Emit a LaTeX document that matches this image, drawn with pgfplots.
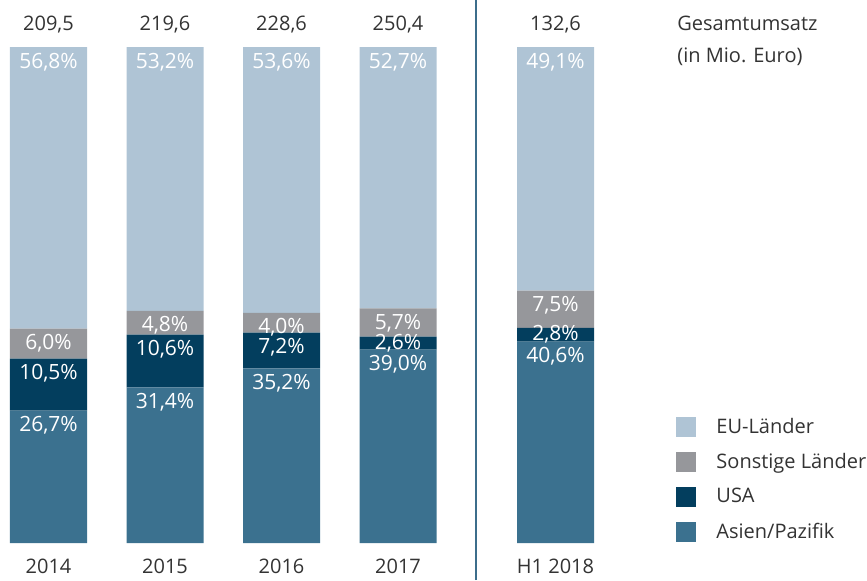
\documentclass[border=0pt]{standalone}
\usepackage{pgfplots}
\pgfplotsset{compat=1.18}
\usepackage{pgfplotstable}
\usepackage{fontspec}
\setmainfont{Open Sans}
\definecolor{cEU}{HTML}{AFC4D5}
\definecolor{cSon}{HTML}{96979B}
\definecolor{cUSA}{HTML}{033E5E}
\definecolor{cAsia}{HTML}{3B718F}
\definecolor{cLine}{HTML}{3C6D8B}
\definecolor{textc}{HTML}{333333}
\pgfplotstableread{
x asien usa sonst eu
0 26.7 10.5 6.0 56.8
1 31.4 10.6 4.8 53.2
2 35.2 7.2 4.0 53.6
3 39.0 2.6 5.7 52.7
4.352 40.6 2.8 7.5 49.1
}\data
\tikzset{
  txtlab/.style={anchor=base, text=textc, font=\fontsize{10}{12}\selectfont},
  pctlab/.style={anchor=base, text=white, font=\fontsize{10.5}{12}\selectfont, yshift=-10.5pt},
  pctsmall/.style={anchor=base, text=white, font=\fontsize{10.5}{12}\selectfont, yshift=-6.5pt},
}
\begin{document}
\begin{tikzpicture}
\begin{axis}[
  scale only axis, width=433.5pt, height=290pt,
  xmin=-0.4163, xmax=7.0258, ymin=-7.46, ymax=109.48,
  hide axis, clip=false,
  ybar stacked, bar width=38.5pt,
  reverse legend,
  legend cell align=left,
  legend style={at={(axis cs:5.335,26.9)}, anchor=north west, draw=none, fill=none,
    font=\fontsize{10}{12}\selectfont, text=textc, row sep=4.5pt,
    /tikz/every odd column/.append style={column sep=8pt}},
  legend image code/.code={\draw[#1,draw=none] (0pt,-5pt) rectangle (10pt,5pt);},
]
\addplot[fill=cAsia, draw=none] table[x=x, y=asien] {\data};
\addplot[fill=cUSA, draw=none] table[x=x, y=usa] {\data};
\addplot[fill=cSon, draw=none] table[x=x, y=sonst] {\data};
\addplot[fill=cEU, draw=none] table[x=x, y=eu] {\data};
\legend{Asien/Pazifik, USA, Sonstige Länder, EU-Länder}
\draw[cLine, line width=1pt] (axis cs:3.67,-7.46) -- (axis cs:3.67,109.48);
\coordinate (a4) at (axis cs:0,100);
\coordinate (a3) at (axis cs:0,43.2);
\coordinate (a2) at (axis cs:0,37.2);
\coordinate (a1) at (axis cs:0,26.7);
\coordinate (b4) at (axis cs:1,100);
\coordinate (b3) at (axis cs:1,46.8);
\coordinate (b2) at (axis cs:1,42.0);
\coordinate (b1) at (axis cs:1,31.4);
\coordinate (c4) at (axis cs:2,100);
\coordinate (c3) at (axis cs:2,46.4);
\coordinate (c2) at (axis cs:2,42.4);
\coordinate (c1) at (axis cs:2,35.2);
\coordinate (d4) at (axis cs:3,100);
\coordinate (d3) at (axis cs:3,47.3);
\coordinate (d2) at (axis cs:3,41.6);
\coordinate (d1) at (axis cs:3,39.0);
\coordinate (e4) at (axis cs:4.352,100);
\coordinate (e3) at (axis cs:4.352,50.9);
\coordinate (e2) at (axis cs:4.352,43.4);
\coordinate (e1) at (axis cs:4.352,40.6);
\node[txtlab] at (axis cs:0,103.4) {209,5};
\node[txtlab] at (axis cs:1,103.4) {219,6};
\node[txtlab] at (axis cs:2,103.4) {228,6};
\node[txtlab] at (axis cs:3,103.4) {250,4};
\node[txtlab] at (axis cs:4.352,103.4) {132,6};
\node[txtlab] at (axis cs:0,-6.05) {2014};
\node[txtlab] at (axis cs:1,-6.05) {2015};
\node[txtlab] at (axis cs:2,-6.05) {2016};
\node[txtlab] at (axis cs:3,-6.05) {2017};
\node[txtlab] at (axis cs:4.352,-6.05) {H1 2018};
\node[txtlab, anchor=base west, inner sep=0pt] at (axis cs:5.395,103.4) {Gesamtumsatz};
\node[txtlab, anchor=base west, inner sep=0pt] at (axis cs:5.395,96.9) {(in Mio. Euro)};
\end{axis}
\node[pctlab] at (a4) {56,8\%};
\node[pctlab] at (a3) {6,0\%};
\node[pctlab] at (a2) {10,5\%};
\node[pctlab] at (a1) {26,7\%};
\node[pctlab] at (b4) {53,2\%};
\node[pctlab] at (b3) {4,8\%};
\node[pctlab] at (b2) {10,6\%};
\node[pctlab] at (b1) {31,4\%};
\node[pctlab] at (c4) {53,6\%};
\node[pctlab] at (c3) {4,0\%};
\node[pctlab] at (c2) {7,2\%};
\node[pctlab] at (c1) {35,2\%};
\node[pctlab] at (d4) {52,7\%};
\node[pctlab] at (d3) {5,7\%};
\node[pctsmall] at (d2) {2,6\%};
\node[pctlab] at (d1) {39,0\%};
\node[pctlab] at (e4) {49,1\%};
\node[pctlab] at (e3) {7,5\%};
\node[pctsmall] at (e2) {2,8\%};
\node[pctlab] at (e1) {40,6\%};
\pgfresetboundingbox
\path (current axis.south west) rectangle (current axis.north east);
\end{tikzpicture}
\end{document}
